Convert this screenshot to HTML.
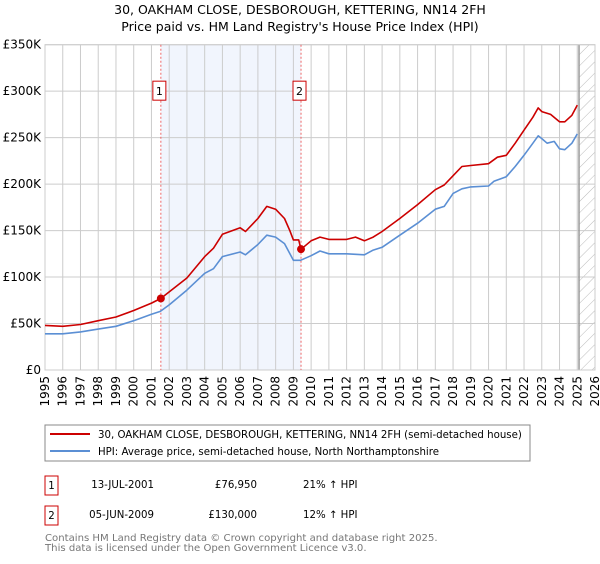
<!DOCTYPE html>
<html><head><meta charset="utf-8"><style>
body{margin:0;background:#fff;font-family:"DejaVu Sans","Liberation Sans",sans-serif;}
svg text{font-family:"DejaVu Sans","Liberation Sans",sans-serif;}
</style></head><body>
<svg id="chart" width="600" height="560" viewBox="0 0 600 560" xmlns="http://www.w3.org/2000/svg">
<defs><pattern id="hatch" width="8" height="8" patternUnits="userSpaceOnUse" patternTransform="rotate(45)"><line x1="0" y1="0" x2="0" y2="8" stroke="#bbb" stroke-width="1"/></pattern></defs>
<text x="300" y="14" text-anchor="middle" font-size="12.5">30, OAKHAM CLOSE, DESBOROUGH, KETTERING, NN14 2FH</text>
<text x="300" y="31" text-anchor="middle" font-size="12.5">Price paid vs. HM Land Registry's House Price Index (HPI)</text>
<g id="grid"></g><g id="marks"></g><g id="axes"></g>
<rect x="45" y="425" width="485" height="36" fill="#fff" stroke="#888"/>
<line x1="50" y1="434" x2="90" y2="434" stroke="#cc0000" stroke-width="2"/>
<text x="98" y="438" font-size="10.2">30, OAKHAM CLOSE, DESBOROUGH, KETTERING, NN14 2FH (semi-detached house)</text>
<line x1="50" y1="451" x2="90" y2="451" stroke="#5b8fd4" stroke-width="2"/>
<text x="98" y="455" font-size="10.2">HPI: Average price, semi-detached house, North Northamptonshire</text>
<g>
<rect x="45" y="476" width="13" height="19" fill="#fff" stroke="#cc0000"/><text x="51.5" y="489" text-anchor="middle" font-size="10.2">1</text>
<text x="154" y="488" text-anchor="end" font-size="10.2">13-JUL-2001</text>
<text x="257" y="488" text-anchor="end" font-size="10.2">£76,950</text>
<text x="303" y="488" font-size="10.2">21% ↑ HPI</text></g>
<g>
<rect x="45" y="506" width="13" height="19" fill="#fff" stroke="#cc0000"/><text x="51.5" y="519" text-anchor="middle" font-size="10.2">2</text>
<text x="154" y="518" text-anchor="end" font-size="10.2">05-JUN-2009</text>
<text x="257" y="518" text-anchor="end" font-size="10.2">£130,000</text>
<text x="303" y="518" font-size="10.2">12% ↑ HPI</text></g>
<text x="45" y="541" font-size="10.1" fill="#777">Contains HM Land Registry data © Crown copyright and database right 2025.</text>
<text x="45" y="551" font-size="10.1" fill="#777">This data is licensed under the Open Government Licence v3.0.</text>
</svg>
<script>
const hpiYears=[1995,1996,1997,1998,1999,2000,2001,2001.5,2002,2003,2004,2004.5,2005,2006,2006.3,2007,2007.5,2008,2008.5,2009,2009.4,2010,2010.5,2011,2012,2013,2013.5,2014,2015,2016,2017,2017.5,2018,2018.5,2019,2020,2020.3,2021,2021.5,2022,2022.5,2022.8,2023,2023.3,2023.7,2024,2024.3,2024.7,2025];
const hpiValues=[39,39,41,44,47,53,60,63,70,86,104,109,122,127,124,135,145,143,136,118,118,123,128,125,125,124,129,132,145,158,173,176,190,195,197,198,203,208,219,231,244,252,249,244,246,238,237,244,254];
const propYears=[1995,1996,1997,1998,1999,2000,2001,2001.53,2002,2003,2004,2004.5,2005,2006,2006.3,2007,2007.5,2008,2008.5,2008.8,2009,2009.3,2009.43,2009.5,2010,2010.5,2011,2012,2012.5,2013,2013.5,2014,2015,2016,2017,2017.5,2018,2018.5,2019,2020,2020.5,2021,2021.5,2022,2022.5,2022.8,2023,2023.5,2024,2024.3,2024.7,2025];
const propValues=[48,47,49,53,57,64,72,77,84,99,122,131,146,153,149,163,176,173,163,150,140,140,130,131,139,143,140.5,140.5,143,139,143,149,163,178,194,199,209,219,220,222,229,231,244,258,272,282,278,275,267,267,274,285];
const saleYears=[2001.53,2009.43];
const saleValues=[76.95,130];
const saleLabels=["1","2"];
const yTicks=[0,50,100,150,200,250,300,350];
const yTickLabels=["£0","£50K","£100K","£150K","£200K","£250K","£300K","£350K"];
const xTicks=[1995,1996,1997,1998,1999,2000,2001,2002,2003,2004,2005,2006,2007,2008,2009,2010,2011,2012,2013,2014,2015,2016,2017,2018,2019,2020,2021,2022,2023,2024,2025,2026];
const dataEnd=2025.1;

const L=45,R=595,T=44.7,B=370;
const xs=y=>L+(y-1995)/(2026-1995)*(R-L);
const ys=v=>B-v/350*(B-T);
const NS="http://www.w3.org/2000/svg";
function mk(p,tag,at){const e=document.createElementNS(NS,tag);for(const k in at)e.setAttribute(k,at[k]);p.appendChild(e);return e;}
const grid=document.getElementById('grid'),marks=document.getElementById('marks'),axes=document.getElementById('axes');
let sh=mk(grid,'rect',{x:xs(saleYears[0]),y:T,width:xs(saleYears[1])-xs(saleYears[0]),height:B-T,fill:'#eef3fc',opacity:'0.8'});


let ht=mk(grid,'rect',{x:xs(dataEnd),y:T,width:R-xs(dataEnd),height:B-T,fill:'url(#hatch)'});


yTicks.forEach((v,i)=>{
 let g=mk(grid,'line',{x1:L,x2:R,y1:ys(v),y2:ys(v),stroke:'#ccc','stroke-width':1});
 
 
 let t=mk(axes,'text',{x:L-4,y:ys(v)+4,'text-anchor':'end','font-size':12});
 t.textContent=yTickLabels[i];
 
 
});
xTicks.forEach(y=>{
 let g=mk(grid,'line',{x1:xs(y),x2:xs(y),y1:T,y2:B,stroke:'#ccc','stroke-width':1});
 
 
 let t=mk(axes,'text',{x:0,y:0,'text-anchor':'end','font-size':12,transform:`translate(${xs(y)+4},${B+6}) rotate(-90)`});
 t.textContent=y;
 
 
});
let dl=mk(grid,'line',{x1:xs(dataEnd),x2:xs(dataEnd),y1:T,y2:B,stroke:'#999','stroke-width':1.5});


let fr=mk(grid,'rect',{x:L,y:T,width:R-L,height:B-T,fill:'none',stroke:'#ccc'});


saleYears.forEach((y,i)=>{
 let l=mk(marks,'line',{x1:xs(y),x2:xs(y),y1:T,y2:B,stroke:'#e66','stroke-width':1,'stroke-dasharray':'2,2'});
 
 
});
function path(xa,va,col,name){
 let d=xa.map((x,i)=>(i?'L':'M')+xs(x).toFixed(1)+','+ys(va[i]).toFixed(1)).join('');
 let p=mk(marks,'path',{d:d,fill:'none',stroke:col,'stroke-width':1.6,'stroke-linejoin':'round'});
 
 
}
path(hpiYears,hpiValues,'#5b8fd4','hpi-line');
path(propYears,propValues,'#cc0000','property-price-line');
saleYears.forEach((y,i)=>{
 let c=mk(marks,'circle',{cx:xs(y),cy:ys(saleValues[i]),r:4,fill:'#cc0000'});
 
 
 let g=mk(marks,'g',{});
 
 
 mk(g,'rect',{x:xs(y)-(i==0?8:8),y:ys(300)-10,width:13,height:19,fill:'#fff',stroke:'#cc0000'});
 let t=mk(g,'text',{x:xs(y)-1.5,y:ys(300)+4,'text-anchor':'middle','font-size':11});
 t.textContent=saleLabels[i];
});
</script>
</body></html>
